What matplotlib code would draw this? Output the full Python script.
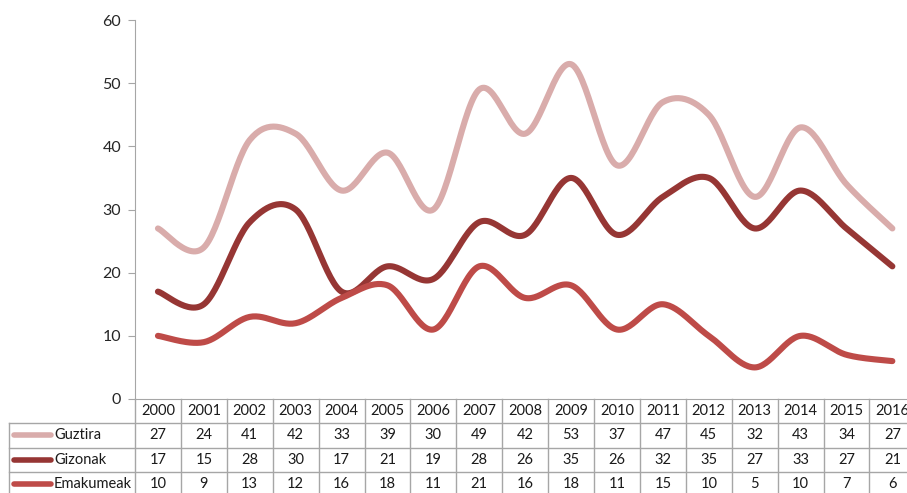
import matplotlib
matplotlib.use("Agg")
import matplotlib.pyplot as plt
import numpy as np

years = [str(y) for y in range(2000, 2017)]
guztira = [27, 24, 41, 42, 33, 39, 30, 49, 42, 53, 37, 47, 45, 32, 43, 34, 27]
gizonak = [17, 15, 28, 30, 17, 21, 19, 28, 26, 35, 26, 32, 35, 27, 33, 27, 21]
emakumeak = [10, 9, 13, 12, 16, 18, 11, 21, 16, 18, 11, 15, 10, 5, 10, 7, 6]

series_names = ["Guztira", "Gizonak", "Emakumeak"]
series_colors = ["#D9ACAB", "#963634", "#BE4B48"]
y_ticks = [0, 10, 20, 30, 40, 50, 60]

plt.rcParams['font.family'] = ['Lato', 'DejaVu Sans']

W, H = 907, 493
x_axis = 135          # left edge of plot area (px)
col_w = 45.9          # width of one category column (px)
y_top, y_bot = 20, 399
row_h = 24.3


def smooth(vals, n=30):
    # excel style smoothed line: bezier segments with catmull-rom control points
    x = np.arange(len(vals), dtype=float)
    y = np.array(vals, dtype=float)
    xs, ys = [], []
    t = np.linspace(0, 1, n)
    for i in range(len(vals) - 1):
        i0, i3 = max(i - 1, 0), min(i + 2, len(vals) - 1)
        p0 = np.array([x[i], y[i]])
        p3 = np.array([x[i + 1], y[i + 1]])
        p1 = p0 + (p3 - np.array([x[i0], y[i0]])) / 6
        p2 = p3 - (np.array([x[i3], y[i3]]) - p0) / 6
        b = ((1 - t) ** 3)[:, None] * p0 + (3 * (1 - t) ** 2 * t)[:, None] * p1 \
            + (3 * (1 - t) * t ** 2)[:, None] * p2 + (t ** 3)[:, None] * p3
        xs.extend(b[:, 0])
        ys.extend(b[:, 1])
    return xs, ys


fig = plt.figure(figsize=(W / 100, H / 100), dpi=100)
ax = fig.add_axes([x_axis / W, 1 - y_bot / H,
                   len(years) * col_w / W, (y_bot - y_top) / H])

for vals, col in zip([guztira, gizonak, emakumeak], series_colors):
    sx, sy = smooth(vals)
    ax.plot(sx, sy, color=col, lw=4.4, solid_capstyle='round', zorder=3)

ax.set_xlim(-0.5, len(years) - 0.5)
ax.set_ylim(0, 60)
ax.set_yticks(y_ticks)
ax.set_xticks([])
ax.tick_params(axis='y', length=5, color='#A6A6A6', labelsize=11.5,
               labelcolor='#262626', pad=5)
for s in ['top', 'right']:
    ax.spines[s].set_visible(False)
ax.spines['left'].set_color('#A6A6A6')
ax.spines['bottom'].set_color('#A6A6A6')

# data table under the plot
tab = fig.add_axes([0, 0, 1, 1])
tab.set_xlim(0, W)
tab.set_ylim(H, 0)
tab.axis('off')
grid = '#A6A6A6'
txt = '#1A1A1A'
lab_left = 9
n = len(years)
right = x_axis + n * col_w

for i in range(n + 1):
    tab.plot([x_axis + i * col_w] * 2, [y_bot, H + 5], color=grid, lw=1)
tab.plot([lab_left, lab_left], [y_bot + row_h, H + 5], color=grid, lw=1)
for r in range(1, 4):
    yy = y_bot + r * row_h
    tab.plot([lab_left, right], [yy, yy], color=grid, lw=1)

for i, yr in enumerate(years):
    tab.text(x_axis + (i + 0.5) * col_w, y_bot + 0.5 * row_h, yr,
             ha='center', va='center', fontsize=10.5, color=txt)

for r, (name, vals, col) in enumerate(zip(series_names,
                                          [guztira, gizonak, emakumeak],
                                          series_colors), start=1):
    yc = y_bot + (r + 0.5) * row_h
    tab.plot([14, 51], [yc, yc], color=col, lw=4, solid_capstyle='round')
    tab.text(54, yc, name, ha='left', va='center', fontsize=10.5, color=txt)
    for i, v in enumerate(vals):
        tab.text(x_axis + (i + 0.5) * col_w, yc, str(v),
                 ha='center', va='center', fontsize=10.5, color=txt)

fig.savefig('out.png', dpi=100)
